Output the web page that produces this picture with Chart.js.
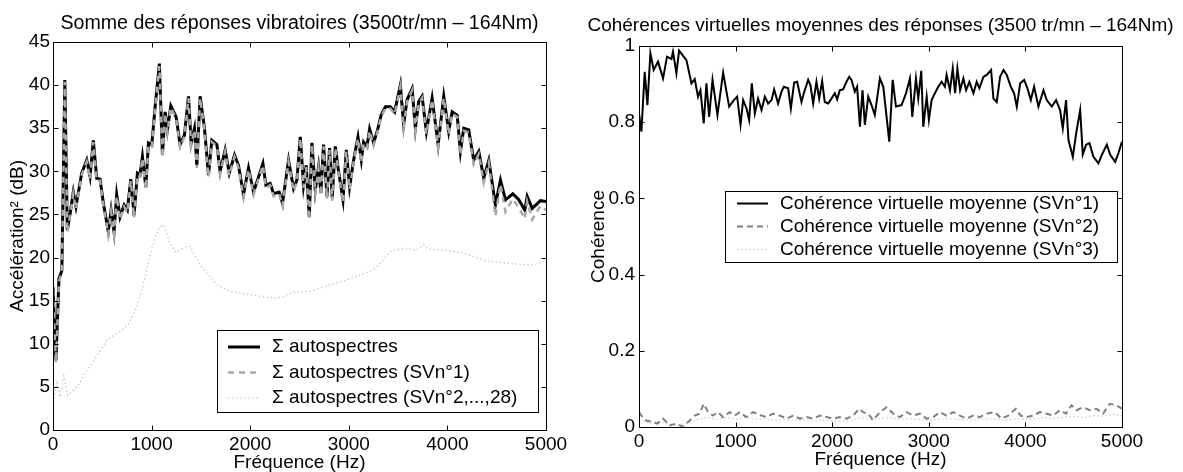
<!DOCTYPE html>
<html>
<head>
<meta charset="utf-8">
<script src="https://cdn.jsdelivr.net/npm/chart.js@4.4.1/dist/chart.umd.min.js"></script>
<style>
  body { margin: 0; background: #fff; }
  canvas { position: absolute; top: 0; }
  #left { left: 0; }
  #right { left: 580px; }
</style>
</head>
<body>
<canvas id="left" width="580" height="472"></canvas>
<canvas id="right" width="603" height="472"></canvas>
<script>
// left panel: summed autospectra (dB) vs frequency (Hz)
const specFreq = [0, 30, 60, 90, 120, 145, 175, 206, 233, 291, 342, 376, 409, 443, 477, 511, 561, 589, 619, 646,
  680, 721, 754, 789, 822, 856, 883, 907, 941, 968, 1002, 1036, 1079, 1110, 1137, 1160, 1195, 1249, 1289, 1333,
  1374, 1401, 1435, 1459, 1492, 1536, 1577, 1611, 1662, 1695, 1746, 1787, 1841, 1881, 1932, 1983, 2034, 2078, 2129, 2159,
  2203, 2237, 2294, 2328, 2389, 2440, 2474, 2508, 2541, 2568, 2599, 2626, 2660, 2693, 2717, 2744, 2779, 2805, 2832, 2863,
  2896, 2941, 2975, 3008, 3049, 3093, 3127, 3150, 3185, 3211, 3252, 3292, 3327, 3371, 3421, 3465, 3523, 3556, 3591, 3642,
  3675, 3709, 3743, 3787, 3845, 3906, 3963, 4013, 4048, 4099, 4132, 4166, 4216, 4267, 4318, 4369, 4420, 4487, 4538, 4589,
  4663, 4724, 4785, 4809, 4860, 4944, 5000];
const sumAll = [16.6, 8.1, 17.5, 18.5, 40.6, 23.2, 25.2, 27.6, 25.9, 29.8, 31.3, 29.4, 33.6, 29.2, 29.1, 26.3, 23.0, 25.5, 23.0, 27.3,
  24.7, 26.1, 25.5, 29.1, 24.9, 29.8, 29.6, 31.7, 28.2, 33.3, 33.1, 37.5, 42.5, 31.9, 36.9, 34.8, 37.6, 36.3, 33.1, 34.2,
  38.7, 33.3, 35.0, 30.7, 38.7, 35.0, 29.6, 33.6, 33.1, 30.0, 32.5, 29.8, 31.9, 30.7, 27.3, 30.4, 27.6, 29.1, 30.9, 28.4,
  28.6, 27.4, 27.6, 26.3, 31.3, 28.0, 29.0, 34.0, 28.4, 30.7, 24.7, 33.3, 27.8, 30.5, 27.5, 33.1, 27.1, 32.7, 26.9, 32.9,
  30.0, 26.7, 32.5, 28.2, 31.3, 34.0, 31.3, 33.4, 32.9, 34.9, 33.3, 34.8, 36.5, 37.5, 37.5, 36.9, 40.0, 35.4, 38.3, 39.6,
  35.0, 38.1, 38.7, 34.6, 38.5, 33.1, 38.7, 34.6, 36.9, 36.5, 32.3, 35.0, 34.8, 31.3, 32.3, 29.2, 31.3, 26.1, 29.0, 26.7,
  27.4, 26.7, 25.5, 27.1, 25.7, 26.6, 26.5];
const sumSV1 = [16.2, 7.8, 17.2, 18.3, 40.4, 22.9, 25.0, 27.4, 25.6, 29.6, 31.1, 29.1, 33.4, 28.9, 28.9, 26.0, 22.7, 25.3, 22.7, 27.1,
  24.4, 25.9, 25.2, 28.9, 24.6, 29.6, 29.4, 31.5, 27.9, 33.1, 32.9, 37.3, 42.2, 31.6, 36.7, 34.5, 37.4, 36.1, 32.8, 34.0,
  38.5, 33.0, 34.8, 30.4, 38.5, 34.8, 29.3, 33.4, 32.9, 29.7, 32.3, 29.5, 31.7, 30.4, 27.0, 30.2, 27.3, 28.9, 30.7, 28.1,
  28.4, 27.1, 27.4, 26.0, 31.1, 27.7, 28.8, 33.8, 28.1, 30.5, 24.4, 33.1, 27.5, 30.3, 27.2, 32.9, 26.8, 32.5, 26.6, 32.7,
  29.8, 26.4, 32.3, 27.9, 31.1, 33.8, 31.0, 33.2, 32.7, 34.7, 33.0, 34.6, 36.3, 37.3, 37.3, 36.6, 39.8, 35.1, 38.1, 39.4,
  34.7, 37.9, 38.5, 34.3, 38.3, 32.8, 38.5, 34.3, 36.7, 36.3, 31.9, 34.7, 34.5, 30.8, 32.0, 28.7, 31.0, 24.8, 28.5, 25.3,
  26.8, 25.8, 24.5, 26.5, 24.4, 26.0, 25.5];
const restFreq = [0, 40, 70, 110, 150, 200, 260, 320, 400, 480, 545, 620, 700, 760, 820, 883, 930, 968, 1000, 1036,
  1080, 1117, 1150, 1180, 1205, 1250, 1289, 1340, 1391, 1450, 1500, 1560, 1650, 1763, 1880, 2000, 2150, 2271, 2360, 2440,
  2540, 2643, 2800, 2982, 3120, 3252, 3340, 3421, 3500, 3591, 3680, 3760, 3800, 3896, 4020, 4166, 4300, 4400, 4505, 4650,
  4843, 4920, 5000];
const sumRest = [3.2, 5.5, 3.8, 6.3, 4.0, 4.5, 5.2, 6.5, 7.8, 9.2, 10.4, 11.0, 11.6, 12.2, 13.5, 15.5, 17.5, 19.4, 21.0, 22.4,
  23.5, 23.8, 23.0, 21.8, 21.3, 20.6, 20.9, 21.2, 21.3, 20.0, 19.0, 18.2, 17.0, 16.2, 15.9, 15.7, 15.4, 15.3, 15.6, 16.0,
  16.0, 16.2, 16.8, 17.4, 18.0, 18.6, 19.6, 20.7, 20.9, 21.1, 20.8, 21.5, 21.0, 20.9, 20.8, 20.5, 20.0, 19.6, 19.5, 19.3,
  19.1, 19.3, 19.7];

// right panel: mean virtual coherences
const cohFreq1 = [0, 25, 59, 87, 118, 152, 197, 249, 290, 336, 352, 387, 415, 491, 543, 577, 611, 636, 670, 698,
  726, 761, 812, 871, 933, 982, 1016, 1051, 1078, 1113, 1140, 1168, 1199, 1233, 1268, 1303, 1337, 1372, 1399, 1440,
  1475, 1499, 1544, 1572, 1606, 1637, 1682, 1706, 1751, 1775, 1803, 1837, 1865, 1896, 1923, 1958, 1992, 2027, 2051, 2079,
  2113, 2148, 2176, 2200, 2234, 2258, 2287, 2314, 2338, 2373, 2407, 2441, 2494, 2529, 2591, 2626, 2660, 2718, 2764, 2805,
  2829, 2867, 2891, 2922, 2943, 2978, 3001, 3029, 3063, 3098, 3133, 3167, 3184, 3219, 3248, 3272, 3296, 3324, 3358, 3386,
  3420, 3462, 3496, 3524, 3565, 3600, 3645, 3669, 3703, 3738, 3773, 3807, 3849, 3883, 3911, 3946, 3987, 4021, 4056, 4090,
  4135, 4187, 4221, 4273, 4318, 4359, 4387, 4421, 4446, 4491, 4525, 4567, 4594, 4629, 4663, 4704, 4756, 4791, 4843, 4877,
  4929, 4963, 5000];
const coh1 = [0.823, 0.775, 0.932, 0.845, 0.981, 0.937, 0.959, 0.915, 0.972, 0.966, 0.985, 0.928, 0.988, 0.963, 0.902, 0.913, 0.867, 0.884, 0.797, 0.902,
  0.814, 0.911, 0.819, 0.930, 0.841, 0.858, 0.867, 0.793, 0.858, 0.836, 0.806, 0.902, 0.823, 0.862, 0.832, 0.867, 0.849, 0.858, 0.886, 0.849,
  0.880, 0.893, 0.889, 0.836, 0.904, 0.906, 0.853, 0.876, 0.911, 0.897, 0.849, 0.906, 0.862, 0.908, 0.853, 0.849, 0.862, 0.876, 0.860, 0.884,
  0.886, 0.906, 0.919, 0.911, 0.880, 0.893, 0.788, 0.884, 0.793, 0.867, 0.845, 0.819, 0.915, 0.893, 0.749, 0.911, 0.841, 0.845, 0.876, 0.915,
  0.814, 0.915, 0.862, 0.935, 0.788, 0.867, 0.806, 0.858, 0.876, 0.893, 0.906, 0.893, 0.924, 0.884, 0.941, 0.876, 0.941, 0.884, 0.915, 0.884,
  0.906, 0.876, 0.906, 0.889, 0.919, 0.924, 0.937, 0.862, 0.853, 0.919, 0.937, 0.924, 0.893, 0.876, 0.841, 0.902, 0.911, 0.889, 0.858, 0.893,
  0.841, 0.884, 0.858, 0.841, 0.858, 0.832, 0.784, 0.858, 0.753, 0.709, 0.770, 0.832, 0.715, 0.741, 0.745, 0.709, 0.692, 0.714, 0.741, 0.715,
  0.696, 0.719, 0.749];
const cohFreq2 = [0, 59, 128, 190, 249, 318, 387, 456, 508, 577, 629, 670, 715, 767, 818, 870, 940, 990, 1043, 1110,
  1181, 1268, 1320, 1389, 1458, 1527, 1596, 1665, 1734, 1803, 1872, 1941, 2010, 2079, 2148, 2217, 2279, 2320, 2372, 2424,
  2494, 2563, 2632, 2701, 2770, 2839, 2908, 2977, 3046, 3115, 3184, 3253, 3322, 3391, 3460, 3529, 3598, 3684, 3753, 3822,
  3901, 3950, 4011, 4080, 4149, 4218, 4287, 4356, 4420, 4477, 4530, 4597, 4666, 4735, 4804, 4873, 4942, 5000];
const coh2 = [0.039, 0.018, 0.014, 0.009, 0.022, 0.004, 0.009, 0.0, 0.013, 0.030, 0.035, 0.061, 0.039, 0.030, 0.039, 0.026, 0.039, 0.030, 0.039, 0.026,
  0.039, 0.030, 0.026, 0.035, 0.030, 0.022, 0.030, 0.022, 0.026, 0.022, 0.030, 0.026, 0.022, 0.026, 0.022, 0.030, 0.048, 0.039, 0.035, 0.018,
  0.039, 0.052, 0.035, 0.026, 0.039, 0.030, 0.035, 0.022, 0.026, 0.039, 0.030, 0.039, 0.030, 0.022, 0.030, 0.026, 0.035, 0.039, 0.022, 0.030,
  0.048, 0.030, 0.026, 0.030, 0.039, 0.035, 0.030, 0.044, 0.035, 0.057, 0.044, 0.052, 0.044, 0.048, 0.035, 0.061, 0.057, 0.048];
const cohFreq3 = [0, 100, 200, 300, 400, 500, 600, 700, 800, 900, 1000, 1100, 1200, 1300, 1400, 1500, 1600, 1700, 1800, 1900,
  2000, 2100, 2200, 2300, 2400, 2500, 2600, 2700, 2800, 2900, 3000, 3100, 3200, 3300, 3400, 3500, 3600, 3700, 3800, 3900,
  4000, 4100, 4200, 4300, 4400, 4500, 4600, 4700, 4800, 4900, 5000];
const coh3 = [0.020, 0.010, 0.015, 0.008, 0.005, 0.010, 0.020, 0.025, 0.020, 0.025, 0.020, 0.025, 0.020, 0.022, 0.018, 0.020, 0.017, 0.020, 0.015, 0.018,
  0.016, 0.015, 0.018, 0.025, 0.020, 0.022, 0.025, 0.020, 0.022, 0.020, 0.018, 0.020, 0.022, 0.020, 0.018, 0.020, 0.022, 0.020, 0.018, 0.022,
  0.020, 0.022, 0.025, 0.022, 0.025, 0.028, 0.025, 0.030, 0.028, 0.033, 0.030];

const FONT = '19px "Liberation Sans", Arial, sans-serif';

function pts(xs, ys) {
  return xs.map((x, i) => ({ x: x, y: ys[i] }));
}

// plain tick numbers, like MATLAB (no thousands separator, "1" not "1.0")
function plainTick(v) {
  return String(Math.round(v * 100) / 100);
}

// MATLAB style box, inward ticks, titles and boxed legend
const matlabFrame = {
  id: 'frame',
  afterDraw(chart, args, opts) {
    const ctx = chart.ctx, a = chart.chartArea, sx = chart.scales.x, sy = chart.scales.y;
    const L = Math.round(a.left) + 0.5, R = Math.round(a.right) + 0.5;
    const T = Math.round(a.top) + 0.5, B = Math.round(a.bottom) + 0.5;
    ctx.save();
    ctx.strokeStyle = '#000';
    ctx.lineWidth = 1;
    ctx.setLineDash([]);
    ctx.beginPath();
    sx.ticks.forEach(t => {
      const p = Math.round(sx.getPixelForValue(t.value)) + 0.5;
      ctx.moveTo(p, B); ctx.lineTo(p, B - 5);
      ctx.moveTo(p, T); ctx.lineTo(p, T + 5);
    });
    sy.ticks.forEach(t => {
      const p = Math.round(sy.getPixelForValue(t.value)) + 0.5;
      ctx.moveTo(L, p); ctx.lineTo(L + 5, p);
      ctx.moveTo(R, p); ctx.lineTo(R - 5, p);
    });
    ctx.rect(L, T, R - L, B - T);
    ctx.stroke();

    ctx.fillStyle = '#000';
    ctx.textAlign = 'center';
    ctx.textBaseline = 'middle';
    ctx.font = opts.titleFont || FONT;
    ctx.fillText(opts.title, (a.left + a.right) / 2, opts.titleY);
    ctx.font = FONT;
    ctx.fillText(opts.xTitle, (a.left + a.right) / 2, opts.xTitleY);
    ctx.save();
    ctx.translate(opts.yTitleX, (a.top + a.bottom) / 2);
    ctx.rotate(-Math.PI / 2);
    ctx.fillText(opts.yTitle, 0, 0);
    ctx.restore();

    const lg = opts.legend;
    ctx.fillStyle = '#fff';
    ctx.fillRect(lg.left, lg.top, lg.width, lg.height);
    ctx.strokeRect(lg.left + 0.5, lg.top + 0.5, lg.width, lg.height);
    ctx.textAlign = 'left';
    chart.data.datasets.forEach((ds, i) => {
      const y = lg.rows[i];
      ctx.strokeStyle = ds.borderColor;
      ctx.lineWidth = ds.borderWidth;
      ctx.setLineDash(ds.borderDash || []);
      ctx.beginPath();
      ctx.moveTo(lg.lineX0, y);
      ctx.lineTo(lg.lineX1, y);
      ctx.stroke();
      ctx.fillStyle = '#000';
      ctx.fillText(ds.label, lg.textX, y);
    });
    ctx.restore();
  }
};

function makeChart(el, datasets, yMax, yStep, box, frame) {
  return new Chart(el, {
    type: 'line',
    data: { datasets: datasets },
    options: {
      responsive: false,
      animation: false,
      devicePixelRatio: 1,
      layout: { padding: { top: box.top, right: box.right, bottom: 0, left: 0 } },
      elements: { point: { radius: 0 }, line: { tension: 0 } },
      scales: {
        x: {
          type: 'linear', min: 0, max: 5000,
          grid: { display: false, drawTicks: false, tickLength: 0 },
          border: { display: false },
          ticks: { stepSize: 1000, padding: box.xPad, color: '#000', font: { family: '"Liberation Sans", Arial', size: 19 }, maxRotation: 0, callback: plainTick },
          afterFit: s => { s.height = box.xHeight; }
        },
        y: {
          min: 0, max: yMax,
          grid: { display: false, drawTicks: false, tickLength: 0 },
          border: { display: false },
          ticks: { stepSize: yStep, padding: box.yPad, color: '#000', font: { family: '"Liberation Sans", Arial', size: 19 }, callback: plainTick },
          afterFit: s => { s.width = box.yWidth; }
        }
      },
      plugins: {
        legend: { display: false },
        tooltip: { enabled: false },
        frame: frame
      }
    },
    plugins: [matlabFrame]
  });
}

makeChart(document.getElementById('left'), [
  { label: 'Σ autospectres', data: pts(specFreq, sumAll), borderColor: '#000', borderWidth: 3, order: 2 },
  { label: 'Σ autospectres (SVn°1)', data: pts(specFreq, sumSV1), borderColor: '#a8a8a8', borderWidth: 2.5, borderDash: [6, 5], order: 1 },
  { label: 'Σ autospectres (SVn°2,...,28)', data: pts(restFreq, sumRest), borderColor: '#c4c4c4', borderWidth: 1.2, borderDash: [1.5, 2.5], order: 3 }
], 45, 5,
  { top: 42, right: 34, xHeight: 42, yWidth: 53, xPad: 3, yPad: 3 },
  {
    title: 'Somme des réponses vibratoires (3500tr/mn – 164Nm)', titleY: 24, titleFont: '19.6px "Liberation Sans", Arial, sans-serif',
    xTitle: 'Fréquence (Hz)', xTitleY: 463,
    yTitle: 'Accélération² (dB)', yTitleX: 18,
    legend: { left: 217, top: 330, width: 321, height: 82, rows: [347, 372.5, 398], lineX0: 228, lineX1: 260, textX: 272 }
  });

makeChart(document.getElementById('right'), [
  { label: 'Cohérence virtuelle moyenne (SVn°1)', data: pts(cohFreq1, coh1), borderColor: '#000', borderWidth: 2 },
  { label: 'Cohérence virtuelle moyenne (SVn°2)', data: pts(cohFreq2, coh2), borderColor: '#808080', borderWidth: 2, borderDash: [6, 4] },
  { label: 'Cohérence virtuelle moyenne (SVn°3)', data: pts(cohFreq3, coh3), borderColor: '#c8c8c8', borderWidth: 1.2, borderDash: [1.5, 2.5] }
], 1, 0.2,
  { top: 46, right: 61, xHeight: 45, yWidth: 59, xPad: 3, yPad: 4 },
  {
    title: 'Cohérences virtuelles moyennes des réponses (3500 tr/mn – 164Nm)', titleY: 26,
    xTitle: 'Fréquence (Hz)', xTitleY: 460,
    yTitle: 'Cohérence', yTitleX: 19,
    legend: { left: 145, top: 191, width: 392, height: 71, rows: [203.5, 226.5, 249.5], lineX0: 157, lineX1: 188, textX: 200 }
  });
</script>
</body>
</html>
